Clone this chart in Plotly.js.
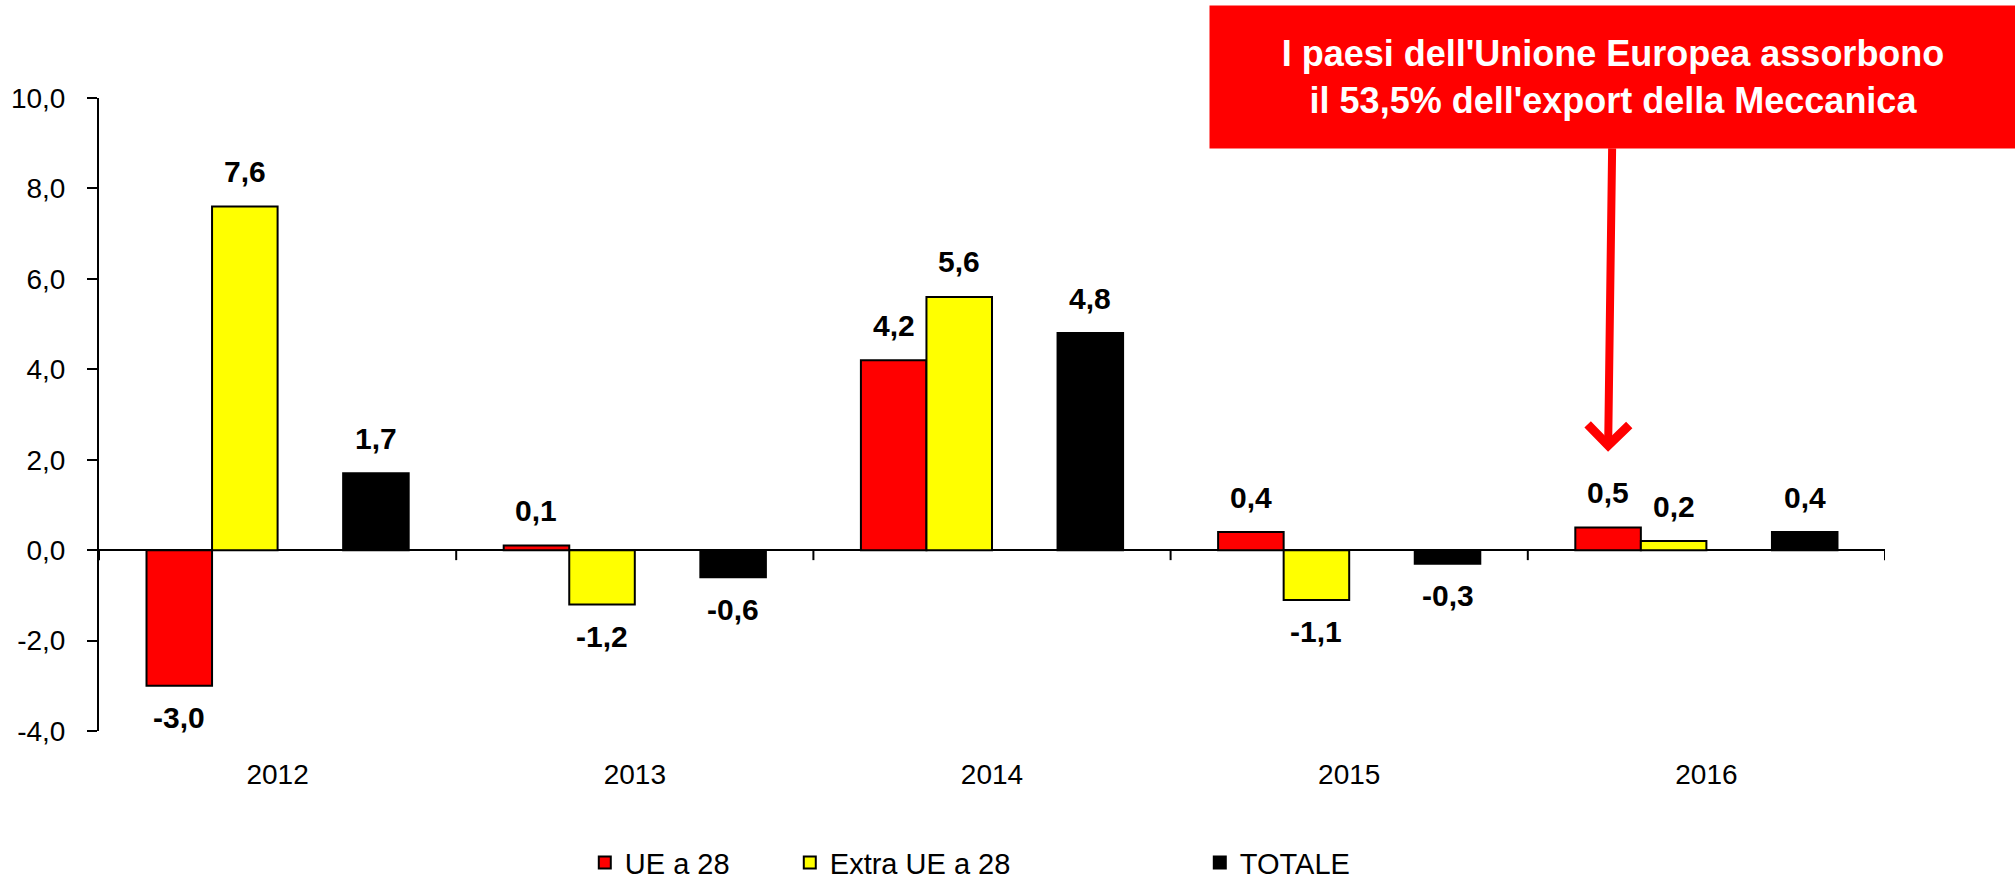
<!DOCTYPE html>
<html>
<head>
<meta charset="utf-8">
<script src="https://cdn.plot.ly/plotly-3.0.1.min.js"></script>
<style>html,body{margin:0;padding:0;background:#fff;}#chart{width:2015px;height:880px;}</style>
</head>
<body>
<div id="chart"></div>
<script>
// ---- data ----
const years = ['2012', '2013', '2014', '2015', '2016'];
const seriesNames = ['UE a 28', 'Extra UE a 28', 'TOTALE'];
const ueA28 = [-3.0, 0.1, 4.2, 0.4, 0.5];
const extraUeA28 = [7.6, -1.2, 5.6, -1.1, 0.2];
const totale = [1.7, -0.6, 4.8, -0.3, 0.4];
const yTicks = [-4, -2, 0, 2, 4, 6, 8, 10];
const calloutText = "I paesi dell'Unione Europea assorbono<br>il 53,5% dell'export della Meccanica";

// ---- styling ----
const colors = ['#FF0000', '#FFFF00', '#000000'];
const W = 0.1835; // bar width in category units
const idx = years.map((_, i) => i);
const fmt = v => v.toFixed(1).replace('.', ',');

// slot order: red, yellow, (empty), black
const slots = [
  {name: seriesNames[0], y: ueA28, color: colors[0], off: -2 * W},
  {name: seriesNames[1], y: extraUeA28, color: colors[1], off: -1 * W},
  {name: ' ', y: null, color: 'rgba(0,0,0,0)', off: 0},
  {name: seriesNames[2], y: totale, color: colors[2], off: 1 * W}
];

const traces = slots.map(s => ({
  type: 'bar',
  name: s.name,
  x: idx,
  y: s.y ? s.y : idx.map(() => 0),
  width: W,
  offset: s.off,
  marker: {color: s.color, line: {color: s.y ? '#000' : 'rgba(0,0,0,0)', width: s.y ? 2 : 0}},
  hoverinfo: 'skip'
}));

const annotations = [];
slots.forEach(s => {
  if (!s.y) return;
  s.y.forEach((v, i) => {
    annotations.push({
      x: i + s.off + W / 2, y: v, xref: 'x', yref: 'y',
      text: '<b>' + fmt(v) + '</b>', showarrow: false,
      yanchor: 'middle', yshift: v >= 0 ? 35 : -32,
      font: {family: 'Liberation Sans, Arial, sans-serif', size: 30, color: '#000'}
    });
  });
});

// callout pointing to UE a 28 bar of the last year
annotations.push({
  x: (years.length - 1) - 1.5 * W, y: 0.441, xref: 'x', yref: 'paper',
  text: '<b>' + calloutText + '</b>',
  showarrow: true, ax: 5, ay: -375, axref: 'pixel', ayref: 'pixel',
  arrowcolor: '#FF0000', arrowwidth: 8, arrowhead: 4, arrowsize: 1.0, standoff: 0, startstandoff: 0,
  bgcolor: '#FF0000', width: 806, height: 142, borderpad: 0,
  font: {family: 'Liberation Sans, Arial, sans-serif', size: 36, color: '#FFFFFF'}
});

// category boundary tick marks on the zero line
const shapes = [];
for (let i = 0; i <= years.length; i++) {
  shapes.push({type: 'line', xref: 'x', yref: 'y', ysizemode: 'pixel', yanchor: 0,
    x0: i - 0.5, x1: i - 0.5, y0: 0, y1: -10, line: {color: '#000', width: 2}});
}

const layout = {
  width: 2015, height: 880,
  margin: {l: 99, r: 130, t: 98, b: 149, autoexpand: false},
  paper_bgcolor: '#fff', plot_bgcolor: '#fff',
  separators: ',.',
  barmode: 'overlay',
  showlegend: true,
  font: {family: 'Liberation Sans, Arial, sans-serif', color: '#000'},
  xaxis: {
    range: [-0.5, years.length - 0.5],
    tickmode: 'array', tickvals: idx, ticktext: years,
    showline: false, ticks: '', showgrid: false, zeroline: false,
    ticklabelstandoff: 24,
    tickfont: {size: 28, color: '#000'}
  },
  yaxis: {
    range: [yTicks[0], yTicks[yTicks.length - 1]],
    tickmode: 'array', tickvals: yTicks, ticktext: yTicks.map(fmt),
    showline: true, linecolor: '#000', linewidth: 2,
    ticks: 'outside', ticklen: 10, tickwidth: 2, tickcolor: '#000',
    showgrid: false, zeroline: true, zerolinecolor: '#000', zerolinewidth: 2,
    ticklabelstandoff: 16,
    tickfont: {size: 28, color: '#000'}
  },
  legend: {
    orientation: 'h', x: 0.272, xanchor: 'left', y: -0.208, yanchor: 'middle',
    entrywidth: 160, entrywidthmode: 'pixels', traceorder: 'normal',
    font: {size: 29, color: '#000'}, bgcolor: 'rgba(0,0,0,0)'
  },
  annotations: annotations,
  shapes: shapes
};

Plotly.newPlot('chart', traces, layout, {displayModeBar: false, staticPlot: true});
</script>
</body>
</html>
